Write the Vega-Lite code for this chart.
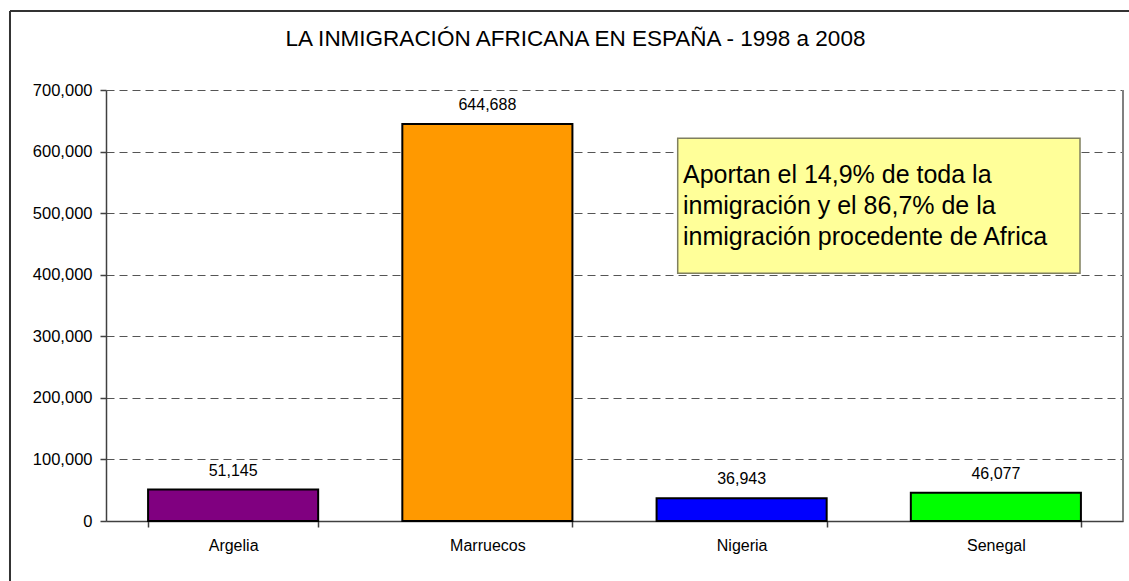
{
  "$schema": "https://vega.github.io/schema/vega-lite/v6.json",
  "width": 1017,
  "height": 431,
  "autosize": {"type": "none"},
  "padding": {"left": 106, "top": 90, "right": 6, "bottom": 60},
  "background": "white",
  "config": {"font": "Liberation Sans", "view": {"stroke": null}},
  "title": {
    "text": "LA INMIGRACIÓN AFRICANA EN ESPAÑA - 1998 a 2008",
    "fontSize": 22.5,
    "fontWeight": "normal",
    "color": "black",
    "font": "Liberation Sans",
    "anchor": "middle",
    "dx": -39,
    "offset": -40
  },
  "datasets": {
    "paises": [
      {"pais": "Argelia", "valor": 51145},
      {"pais": "Marruecos", "valor": 644688},
      {"pais": "Nigeria", "valor": 36943},
      {"pais": "Senegal", "valor": 46077}
    ],
    "nota": [
      {"x1": 2.2486, "x2": 3.8309, "y1": 621555, "y2": 402297, "tx": 2.2694, "ty": 548956,
       "texto": "Aportan el 14,9% de toda la\ninmigración y el 86,7% de la\ninmigración procedente de Africa"}
    ],
    "marco": [
      {"xa": -0.3776, "xb": -0.3776, "ya": 828306, "yb": -120000, "c": "marco"},
      {"xa": -0.3776, "xb": 4.1, "ya": 828306, "yb": 828306, "c": "marco"}
    ],
    "borde": [
      {"xa": 4, "ya": 0, "yb": 700000}
    ]
  },
  "layer": [
    {
      "data": {"name": "paises"},
      "mark": {"type": "bar", "stroke": "black", "strokeWidth": 2},
      "encoding": {
        "x": {
          "field": "pais",
          "type": "nominal",
          "sort": null,
          "scale": {"paddingInner": 0.331, "paddingOuter": 0.1655},
          "axis": {
            "title": null,
            "labelAngle": 0,
            "labelFontSize": 16,
            "labelColor": "black",
            "labelPadding": 10,
            "domainColor": "#404040",
            "domainWidth": 1.5,
            "tickColor": "#404040",
            "tickWidth": 1.5,
            "tickSize": 6,
            "tickBand": "extent",
            "grid": false
          }
        },
        "y": {
          "field": "valor",
          "type": "quantitative",
          "scale": {"domain": [0, 700000], "nice": false},
          "axis": {
            "title": null,
            "values": [0, 100000, 200000, 300000, 400000, 500000, 600000, 700000],
            "format": ",d",
            "labelFontSize": 16.5,
            "labelColor": "black",
            "labelPadding": 8,
            "domainColor": "#404040",
            "domainWidth": 1.5,
            "tickColor": "#404040",
            "tickWidth": 1.5,
            "tickSize": 6,
            "grid": true,
            "gridColor": "#555555",
            "gridDash": [8, 5],
            "gridWidth": 1
          }
        },
        "color": {
          "field": "pais",
          "type": "nominal",
          "scale": {
            "domain": ["Argelia", "Marruecos", "Nigeria", "Senegal"],
            "range": ["#800080", "#FF9900", "#0000FF", "#00FF00"]
          },
          "legend": null
        }
      }
    },
    {
      "data": {"name": "paises"},
      "mark": {"type": "text", "fontSize": 16, "color": "black", "baseline": "alphabetic", "dy": -14},
      "encoding": {
        "x": {
          "field": "pais",
          "type": "nominal",
          "sort": null,
          "scale": {"paddingInner": 0.331, "paddingOuter": 0.1655},
          "axis": null
        },
        "y": {"field": "valor", "type": "quantitative"},
        "text": {"field": "valor", "type": "quantitative", "format": ",d"}
      }
    },
    {
      "data": {"name": "borde"},
      "mark": {"type": "rule", "color": "#808080", "strokeWidth": 2},
      "encoding": {
        "x": {"field": "xa", "type": "quantitative", "scale": {"domain": [0, 4], "nice": false, "zero": false}, "axis": null},
        "y": {"field": "ya", "type": "quantitative"},
        "y2": {"field": "yb"}
      }
    },
    {
      "data": {"name": "nota"},
      "mark": {"type": "rect", "fill": "#FFFF99", "stroke": "#7F7F5F", "strokeWidth": 1.5},
      "encoding": {
        "x": {"field": "x1", "type": "quantitative", "scale": {"domain": [0, 4], "nice": false, "zero": false}, "axis": null},
        "x2": {"field": "x2"},
        "y": {"field": "y1", "type": "quantitative"},
        "y2": {"field": "y2"}
      }
    },
    {
      "data": {"name": "nota"},
      "mark": {"type": "text", "fontSize": 25, "color": "black", "align": "left", "baseline": "alphabetic", "lineBreak": "\n", "lineHeight": 31},
      "encoding": {
        "x": {"field": "tx", "type": "quantitative", "scale": {"domain": [0, 4], "nice": false, "zero": false}, "axis": null},
        "y": {"field": "ty", "type": "quantitative"},
        "text": {"field": "texto", "type": "nominal"}
      }
    },
    {
      "data": {"name": "marco"},
      "mark": {"type": "rule", "color": "#333333", "strokeWidth": 2},
      "encoding": {
        "x": {"field": "xa", "type": "quantitative", "scale": {"domain": [0, 4], "nice": false, "zero": false}, "axis": null},
        "x2": {"field": "xb"},
        "y": {"field": "ya", "type": "quantitative"},
        "y2": {"field": "yb"}
      }
    }
  ],
  "resolve": {"scale": {"x": "independent"}}
}
